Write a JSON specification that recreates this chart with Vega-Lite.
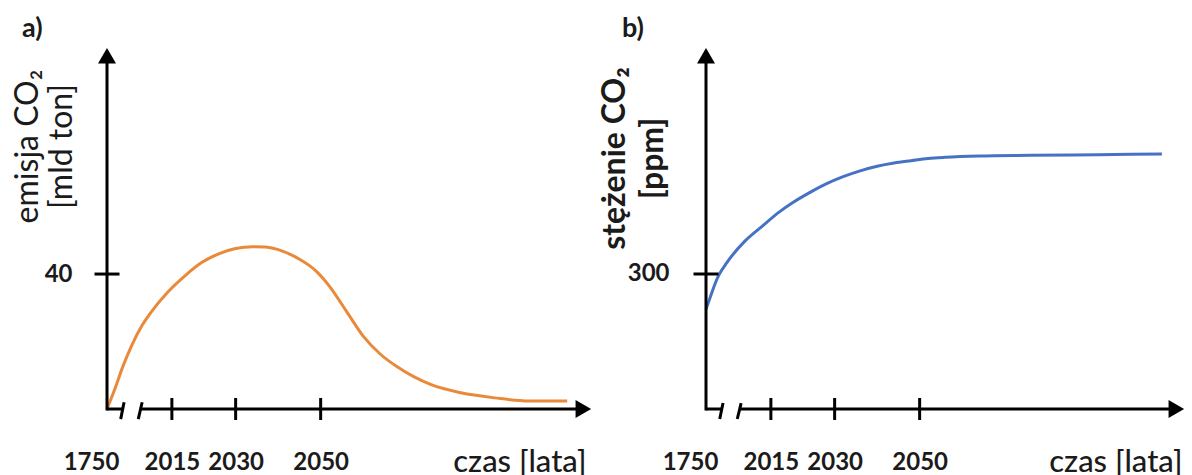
{
  "$schema": "https://vega.github.io/schema/vega-lite/v6.json",
  "background": "white",
  "padding": {"left": 10, "top": 14, "right": 5, "bottom": 0},
  "config": {
    "font": "Lato",
    "view": {"stroke": null},
    "axis": {"grid": false, "domain": false, "ticks": false, "tickSize": 0, "labelColor": "#1b1b1b", "titleColor": "#1b1b1b", "labelOverlap": false, "labelFlush": false, "labelBound": false}
  },
  "datasets": {
    "emisja": [
      {"rok": 1750, "emisja": 0}, {"rok": 1812, "emisja": 6.0}, {"rok": 1875, "emisja": 12.7}, {"rok": 1945, "emisja": 19.0},
      {"rok": 2008, "emisja": 24.8}, {"rok": 2010, "emisja": 28.5}, {"rok": 2014, "emisja": 34.6}, {"rok": 2018, "emisja": 39.4},
      {"rok": 2022, "emisja": 43.4}, {"rok": 2026, "emisja": 46}, {"rok": 2030, "emisja": 47.6}, {"rok": 2034, "emisja": 48.1},
      {"rok": 2037, "emisja": 48}, {"rok": 2041, "emisja": 46.8}, {"rok": 2045, "emisja": 44.4}, {"rok": 2049, "emisja": 40.8},
      {"rok": 2052, "emisja": 36.5}, {"rok": 2056, "emisja": 29.1}, {"rok": 2060, "emisja": 21.6}, {"rok": 2064, "emisja": 16.3},
      {"rok": 2068, "emisja": 12.5}, {"rok": 2072, "emisja": 9.5}, {"rok": 2076, "emisja": 7.2}, {"rok": 2083, "emisja": 4.8},
      {"rok": 2091, "emisja": 3.3}, {"rok": 2099, "emisja": 2.4}, {"rok": 2108, "emisja": 2.4}
    ],
    "stezenie": [
      {"rok": 1750, "stezenie": 274}, {"rok": 1789, "stezenie": 284.4}, {"rok": 1820, "stezenie": 292.6}, {"rok": 1851, "stezenie": 299.3},
      {"rok": 1914, "stezenie": 308.6}, {"rok": 2009, "stezenie": 324.7}, {"rok": 2013, "stezenie": 335.5}, {"rok": 2017, "stezenie": 346},
      {"rok": 2020, "stezenie": 352.6}, {"rok": 2024, "stezenie": 360.1}, {"rok": 2028, "stezenie": 366.7}, {"rok": 2032, "stezenie": 372.1},
      {"rok": 2036, "stezenie": 376.4}, {"rok": 2040, "stezenie": 379.8}, {"rok": 2044, "stezenie": 382.2}, {"rok": 2048, "stezenie": 383.9},
      {"rok": 2052, "stezenie": 385.5}, {"rok": 2056, "stezenie": 386.4}, {"rok": 2064, "stezenie": 387.4}, {"rok": 2076, "stezenie": 387.9},
      {"rok": 2092, "stezenie": 388.4}, {"rok": 2107, "stezenie": 388.9}
    ],
    "znaczniki": [{"rok": 2015}, {"rok": 2030}, {"rok": 2050}],
    "os": [{"rok": 1750}]
  },
  "spacing": 115,
  "bounds": "flush",
  "resolve": {"scale": {"x": "independent", "y": "independent"}},
  "hconcat": [
    {
      "width": 484,
      "height": 361,
      "title": {"text": "a)", "anchor": "start", "frame": "group", "dx": -85, "offset": 5, "fontSize": 27, "fontWeight": "bold", "color": "#1b1b1b"},
      "layer": [
        {
          "data": {"name": "emisja"},
          "mark": {"type": "line", "interpolate": "monotone", "color": "#E9893A", "strokeWidth": 3},
          "encoding": {
            "x": {
              "field": "rok", "type": "quantitative",
              "scale": {"domain": [1750, 2007.5, 2113.6], "range": [0, 33, 484], "nice": false, "zero": false},
              "axis": {
                "values": [1750, 2015, 2030, 2050], "format": "d",
                "labelFontSize": 24, "labelFontWeight": "bold", "labelPadding": 41,
                "labelOffset": {"condition": {"test": "datum.value === 1750", "value": -16}, "value": 0},
                "title": "czas [lata]", "titleFontSize": 31, "titleFontWeight": 500,
                "titleAlign": "right", "titleBaseline": "alphabetic", "titleX": 479, "titleY": 62
              }
            },
            "y": {
              "field": "emisja", "type": "quantitative",
              "scale": {"domain": [0, 107], "nice": false, "zero": false},
              "axis": {
                "values": [40],
                "labelFontSize": 24, "labelFontWeight": "bold", "labelPadding": 35,
                "title": ["emisja CO₂", "[mld ton]"], "titleFontSize": 32, "titleFontWeight": "normal",
                "titleLineHeight": 34, "titleAlign": "center", "titleBaseline": "bottom", "titleX": -63, "titleY": 98
              }
            }
          }
        },
        {
          "data": {"name": "os"},
          "mark": {"type": "rule", "strokeWidth": 3, "color": "black", "strokeCap": "square"},
          "encoding": {"x": {"field": "rok", "type": "quantitative"}, "y": {"datum": 0, "type": "quantitative"}, "y2": {"datum": 104.7}}
        },
        {
          "data": {"name": "os"},
          "mark": {"type": "rule", "strokeWidth": 3, "color": "black"},
          "encoding": {"x": {"field": "rok", "type": "quantitative"}, "x2": {"datum": 1870}, "y": {"datum": 0, "type": "quantitative"}}
        },
        {
          "data": {"name": "os"},
          "mark": {"type": "rule", "strokeWidth": 3, "color": "black"},
          "encoding": {"x": {"datum": 2007.5, "type": "quantitative"}, "x2": {"datum": 2111.8}, "y": {"datum": 0, "type": "quantitative"}}
        },
        {
          "data": {"name": "os"},
          "mark": {"type": "rule", "strokeWidth": 3, "color": "black"},
          "encoding": {"x": {"datum": 1857, "type": "quantitative"}, "x2": {"datum": 1883}, "y": {"datum": -3, "type": "quantitative"}, "y2": {"datum": 2}}
        },
        {
          "data": {"name": "os"},
          "mark": {"type": "rule", "strokeWidth": 3, "color": "black"},
          "encoding": {"x": {"datum": 1994, "type": "quantitative"}, "x2": {"datum": 2008}, "y": {"datum": -3, "type": "quantitative"}, "y2": {"datum": 2}}
        },
        {
          "data": {"name": "os"},
          "mark": {"type": "point", "shape": "triangle-up", "filled": true, "color": "black", "opacity": 1, "size": 324},
          "encoding": {"x": {"field": "rok", "type": "quantitative"}, "y": {"datum": 104.7, "type": "quantitative"}}
        },
        {
          "data": {"name": "os"},
          "mark": {"type": "point", "shape": "triangle-right", "filled": true, "color": "black", "opacity": 1, "size": 324},
          "encoding": {"x": {"datum": 2111.8, "type": "quantitative"}, "y": {"datum": 0, "type": "quantitative"}}
        },
        {
          "data": {"name": "znaczniki"},
          "mark": {"type": "tick", "orient": "vertical", "size": 22, "thickness": 3, "color": "black", "opacity": 1},
          "encoding": {"x": {"field": "rok", "type": "quantitative"}, "y": {"datum": 0, "type": "quantitative"}}
        },
        {
          "data": {"name": "os"},
          "mark": {"type": "tick", "orient": "horizontal", "size": 25, "thickness": 3, "color": "black", "opacity": 1},
          "encoding": {"x": {"field": "rok", "type": "quantitative"}, "y": {"datum": 40, "type": "quantitative"}}
        }
      ]
    },
    {
      "width": 478,
      "height": 361,
      "title": {"text": "b)", "anchor": "start", "frame": "group", "dx": -84, "offset": 5, "fontSize": 27, "fontWeight": "bold", "color": "#1b1b1b"},
      "layer": [
        {
          "data": {"name": "stezenie"},
          "mark": {"type": "line", "interpolate": "monotone", "color": "#4672C4", "strokeWidth": 3},
          "encoding": {
            "x": {
              "field": "rok", "type": "quantitative",
              "scale": {"domain": [1750, 2007.5, 2112.2], "range": [0, 33, 478], "nice": false, "zero": false},
              "axis": {
                "values": [1750, 2015, 2030, 2050], "format": "d",
                "labelFontSize": 24, "labelFontWeight": "bold", "labelPadding": 41,
                "labelOffset": {"condition": {"test": "datum.value === 1750", "value": -16}, "value": 0},
                "title": "czas [lata]", "titleFontSize": 31, "titleFontWeight": 500,
                "titleAlign": "right", "titleBaseline": "alphabetic", "titleX": 476, "titleY": 62
              }
            },
            "y": {
              "field": "stezenie", "type": "quantitative",
              "scale": {"domain": [200, 467.4], "nice": false, "zero": false},
              "axis": {
                "values": [300],
                "labelFontSize": 24, "labelFontWeight": "bold", "labelPadding": 37,
                "title": ["stężenie CO₂", "[ppm]"], "titleFontSize": 32, "titleFontWeight": "bold",
                "titleLineHeight": 38, "titleAlign": "center", "titleBaseline": "bottom", "titleX": -75, "titleY": 110
              }
            }
          }
        },
        {
          "data": {"name": "os"},
          "mark": {"type": "rule", "strokeWidth": 3, "color": "black", "strokeCap": "square"},
          "encoding": {"x": {"field": "rok", "type": "quantitative"}, "y": {"datum": 200, "type": "quantitative"}, "y2": {"datum": 461.6}}
        },
        {
          "data": {"name": "os"},
          "mark": {"type": "rule", "strokeWidth": 3, "color": "black"},
          "encoding": {"x": {"field": "rok", "type": "quantitative"}, "x2": {"datum": 1870}, "y": {"datum": 200, "type": "quantitative"}}
        },
        {
          "data": {"name": "os"},
          "mark": {"type": "rule", "strokeWidth": 3, "color": "black"},
          "encoding": {"x": {"datum": 2007.5, "type": "quantitative"}, "x2": {"datum": 2110.4}, "y": {"datum": 200, "type": "quantitative"}}
        },
        {
          "data": {"name": "os"},
          "mark": {"type": "rule", "strokeWidth": 3, "color": "black"},
          "encoding": {"x": {"datum": 1857, "type": "quantitative"}, "x2": {"datum": 1883}, "y": {"datum": 192.6, "type": "quantitative"}, "y2": {"datum": 204.4}}
        },
        {
          "data": {"name": "os"},
          "mark": {"type": "rule", "strokeWidth": 3, "color": "black"},
          "encoding": {"x": {"datum": 1994, "type": "quantitative"}, "x2": {"datum": 2008}, "y": {"datum": 192.6, "type": "quantitative"}, "y2": {"datum": 204.4}}
        },
        {
          "data": {"name": "os"},
          "mark": {"type": "point", "shape": "triangle-up", "filled": true, "color": "black", "opacity": 1, "size": 324},
          "encoding": {"x": {"field": "rok", "type": "quantitative"}, "y": {"datum": 461.6, "type": "quantitative"}}
        },
        {
          "data": {"name": "os"},
          "mark": {"type": "point", "shape": "triangle-right", "filled": true, "color": "black", "opacity": 1, "size": 324},
          "encoding": {"x": {"datum": 2110.4, "type": "quantitative"}, "y": {"datum": 200, "type": "quantitative"}}
        },
        {
          "data": {"name": "znaczniki"},
          "mark": {"type": "tick", "orient": "vertical", "size": 22, "thickness": 3, "color": "black", "opacity": 1},
          "encoding": {"x": {"field": "rok", "type": "quantitative"}, "y": {"datum": 200, "type": "quantitative"}}
        },
        {
          "data": {"name": "os"},
          "mark": {"type": "tick", "orient": "horizontal", "size": 25, "thickness": 3, "color": "black", "opacity": 1},
          "encoding": {"x": {"field": "rok", "type": "quantitative"}, "y": {"datum": 300, "type": "quantitative"}}
        }
      ]
    }
  ]
}
